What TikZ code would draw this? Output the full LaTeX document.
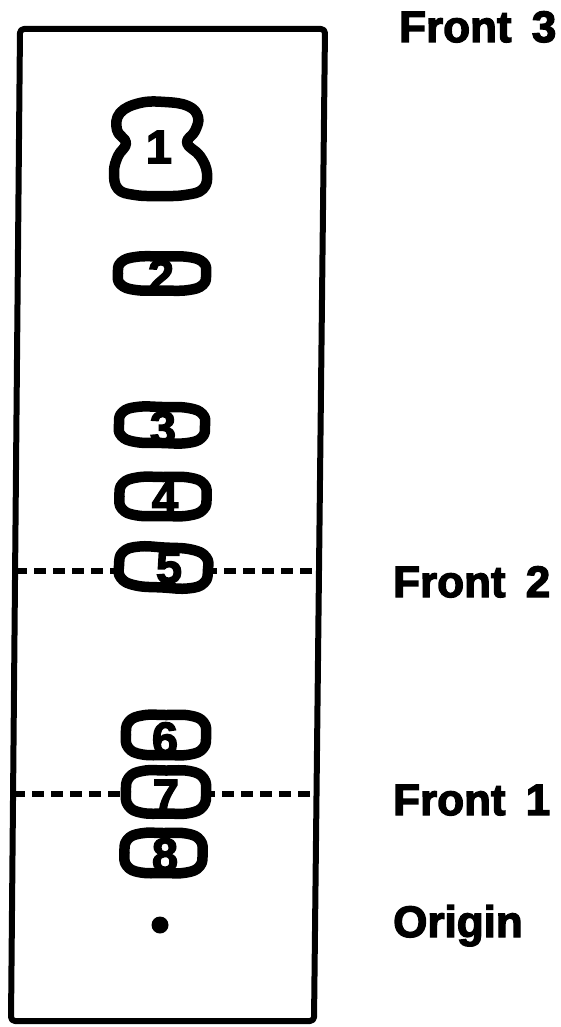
\documentclass[tikz,border=0pt]{standalone}
\usepackage{fontspec}
\setmainfont{Liberation Sans}[BoldFeatures={FakeBold=3}]
\usetikzlibrary{calc}

\tikzset{
  frame/.style={line width=6pt, line join=round, rounded corners=4pt},
  frontline/.style={line width=5.5pt, dash pattern=on 12pt off 7pt},
  spotline/.style={line width=10.5pt, fill=white, line join=round},
  spotnum/.style={font=\fontsize{47}{47}\selectfont\bfseries, inner sep=0pt},
  tag/.style={font=\fontsize{44}{44}\selectfont\bfseries, anchor=base west, inner sep=0pt},
}

% rounded, slightly boxy spot outline: centre, half width, half height, tilt
\newcommand\blob[5]{%
  \begin{scope}[shift={(#1,#2)}, rotate=#5]
    \draw[spotline] plot[smooth cycle, tension=0.75] coordinates {
      (-#3,0) ({-0.93*#3},{-0.66*#4}) ({-0.58*#3},{-0.98*#4}) (0,-#4)
      ({0.6*#3},{-0.97*#4}) ({0.94*#3},{-0.64*#4}) (#3,0)
      ({0.93*#3},{0.66*#4}) ({0.58*#3},{0.98*#4}) (0,#4)
      ({-0.6*#3},{0.97*#4}) ({-0.94*#3},{0.64*#4})};
  \end{scope}}

\begin{document}
\begin{tikzpicture}[x=1pt, y=-1pt]
  \useasboundingbox (0,0) rectangle (561,1027);

  % chromatogram sheet
  \coordinate (tl) at (20,29);
  \coordinate (tr) at (325,29);
  \coordinate (br) at (314,1021);
  \coordinate (bl) at (11,1021);
  \draw[frame] (tl) -- (tr) -- (br) -- (bl) -- cycle;

  % solvent fronts
  \coordinate (f2l) at ($(tl)!0.5464!(bl)$);
  \coordinate (f2r) at ($(tr)!0.5464!(br)$);
  \coordinate (f1l) at ($(tl)!0.7712!(bl)$);
  \coordinate (f1r) at ($(tr)!0.7712!(br)$);
  \draw[frontline] (f2l) -- (f2r);
  \draw[frontline] (f1l) -- (f1r);

  % spot 1 (waisted)
  \draw[spotline] plot[smooth cycle, tension=0.7] coordinates {
    (140,103) (165,102) (188,106) (198,117) (195,131) (187,143)
    (200,156) (207,173) (203,189) (185,195) (160,196) (135,195)
    (118,189) (114,172) (118,156) (126,143) (117,130) (120,113)};
  \node[spotnum] (n1) at (159,147) {1};

  % spots 2 to 8
  \blob{162}{273.5}{44}{17}{0}
  \node[spotnum] (n2) at (161,276) {2};
  \blob{162}{425}{43}{18}{-1}
  \node[spotnum] (n3) at (163,428) {3};
  \blob{163}{496.5}{43.5}{19.5}{0}
  \node[spotnum] (n4) at (165,498) {4};
  \blob{163.5}{567.5}{44.5}{20}{-3}
  \node[spotnum] (n5) at (169,567) {5};
  \blob{166}{735}{40}{20}{0}
  \node[spotnum] (n6) at (165,739) {6};
  \blob{166}{792}{40}{21.5}{0}
  \node[spotnum] (n7) at (166,796) {7};
  \blob{163.5}{853}{39}{20}{0}
  \node[spotnum] (n8) at (165,855) {8};

  % origin
  \fill (160,925) circle[radius=8.5pt];

  % labels
  \node[tag] (t3) at (399,42) {Front\hspace{8pt} 3};
  \node[tag] (t2) at (393,597) {Front\hspace{8pt} 2};
  \node[tag] (t1) at (393,815) {Front\hspace{8pt} 1};
  \node[tag] (to) at (393,937) {Origin};
\end{tikzpicture}
\end{document}
